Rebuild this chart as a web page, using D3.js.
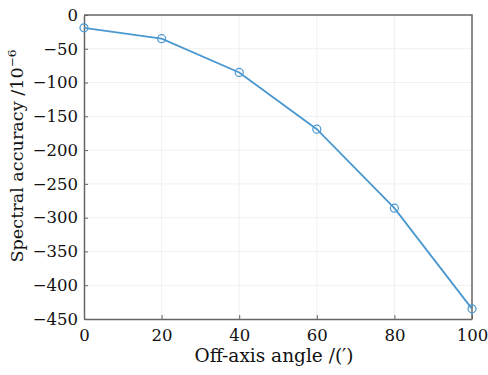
<!DOCTYPE html>
<html>
<head>
<meta charset="utf-8">
<script src="https://cdn.jsdelivr.net/npm/d3@7"></script>
<style>
  body { margin: 0; background: #fff; }
  svg text { font-family: "DejaVu Serif", "Liberation Serif", serif; fill: #111; }
</style>
</head>
<body>
<div id="chart"></div>
<script>
// off-axis angle (arc minutes) and spectral accuracy (1e-6)
const angles = [0, 20, 40, 60, 80, 100];
const accuracy = [-19, -35, -85, -169, -286, -435];
const xTicks = [0, 20, 40, 60, 80, 100];
const yTicks = [0, -50, -100, -150, -200, -250, -300, -350, -400, -450];

const width = 488, height = 375;
const margin = { top: 15, right: 16, bottom: 56, left: 84 };
const w = width - margin.left - margin.right;
const h = height - margin.top - margin.bottom;

const svg = d3.select('#chart')
    .append('svg')
    .attr('width', width)
    .attr('height', height);

const g = svg.append('g')
    .attr('transform', `translate(${margin.left},${margin.top})`);

const x = d3.scaleLinear().domain([0, 100]).range([0, w]);
const y = d3.scaleLinear().domain([-450, 0]).range([h, 0]);

// faint grid
g.append('g')
    .selectAll('line')
    .data(xTicks.slice(1, -1))
    .enter()
    .append('line')
    .attr('x1', d => x(d)).attr('x2', d => x(d))
    .attr('y1', 0).attr('y2', h)
    .attr('stroke', '#f0f0f0');
g.append('g')
    .selectAll('line')
    .data(yTicks.slice(1, -1))
    .enter()
    .append('line')
    .attr('x1', 0).attr('x2', w)
    .attr('y1', d => y(d)).attr('y2', d => y(d))
    .attr('stroke', '#f0f0f0');

// axes
const xAxis = g.append('g')
    .attr('transform', `translate(0,${h})`)
    .call(d3.axisBottom(x).tickValues(xTicks).tickSizeInner(-4).tickSizeOuter(0).tickPadding(10));
const yAxis = g.append('g')
    .call(d3.axisLeft(y).tickValues(yTicks).tickSizeInner(-4).tickSizeOuter(0).tickPadding(6)
        .tickFormat(d => d === 0 ? '0' : '\u2212' + Math.abs(d)));

[xAxis, yAxis].forEach(a => {
    a.selectAll('text').style('font-size', '16.5px').attr('fill', '#111');
    a.selectAll('line').attr('stroke', '#666');
    a.select('.domain').attr('stroke', '#666').attr('stroke-width', 1.5);
});

// top / right box
g.append('path')
    .attr('d', `M0,0H${w}V${h}`)
    .attr('fill', 'none')
    .attr('stroke', '#666')
    .attr('stroke-width', 1.5);

// series
const pts = angles.map((a, i) => [a, accuracy[i]]);
g.append('path')
    .datum(pts)
    .attr('fill', 'none')
    .attr('stroke', '#4a98cf')
    .attr('stroke-width', 1.8)
    .attr('d', d3.line().x(d => x(d[0])).y(d => y(d[1])));

g.selectAll('.pt')
    .data(pts)
    .enter()
    .append('circle')
    .attr('class', 'pt')
    .attr('cx', d => x(d[0]))
    .attr('cy', d => y(d[1]))
    .attr('r', 4)
    .attr('fill', 'none')
    .attr('stroke', '#4a98cf')
    .attr('stroke-width', 1.2);

// axis titles
svg.append('text')
    .attr('x', 274)
    .attr('y', 362)
    .attr('text-anchor', 'middle')
    .style('font-size', '18.5px')
    .text('Off-axis angle /(\u2032)');

svg.append('text')
    .attr('transform', 'translate(23,156) rotate(-90)')
    .attr('text-anchor', 'middle')
    .style('font-size', '16px')
    .attr('textLength', 213)
    .attr('lengthAdjust', 'spacingAndGlyphs')
    .html('Spectral accuracy /10<tspan dy="-7" font-size="11px">\u22126</tspan>');
</script>
</body>
</html>
